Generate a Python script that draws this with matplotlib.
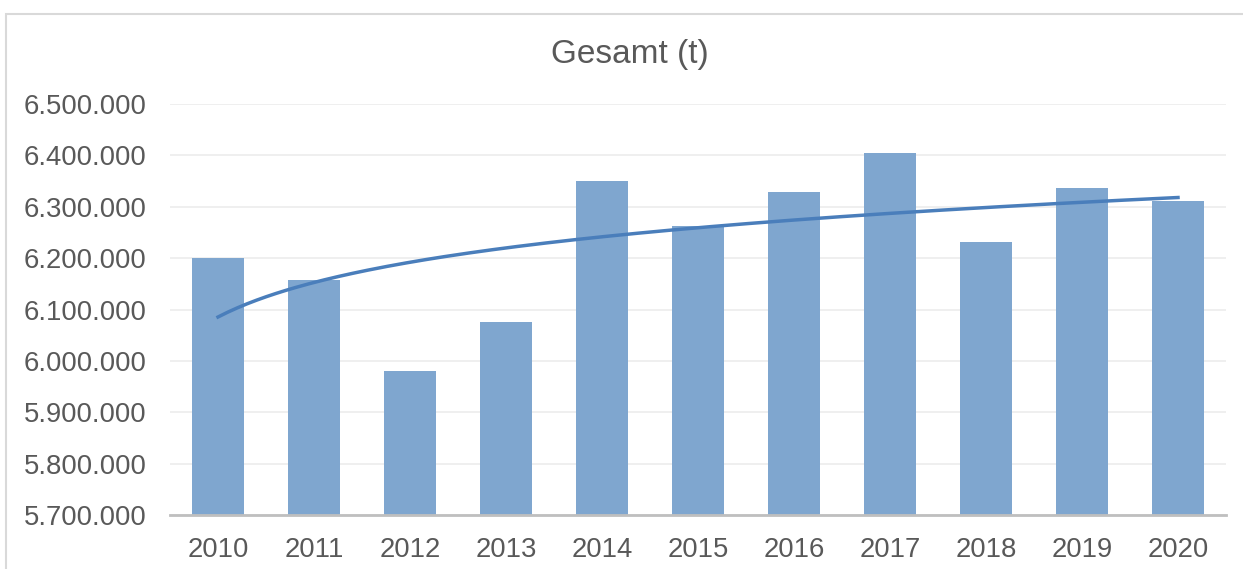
import numpy as np
import matplotlib
matplotlib.use('Agg')
from matplotlib import pyplot as plt
from matplotlib.ticker import FuncFormatter
from matplotlib.patches import Rectangle

# Daten (Tonnen)
jahre = ['2010', '2011', '2012', '2013', '2014', '2015', '2016', '2017', '2018', '2019', '2020']
gesamt = [6200000, 6157000, 5980000, 6076000, 6350000, 6262000, 6329000, 6405000, 6231000, 6336000, 6311000]
titel = 'Gesamt (t)'


def tausender(v, pos):
    return '{:,.0f}'.format(v).replace(',', '.')


def main():
    plt.rcParams['font.family'] = ['Liberation Sans', 'DejaVu Sans']
    grau = '#595959'

    fig = plt.figure(figsize=(12.43, 5.69), dpi=100)
    ax = fig.add_axes([170 / 1243, 1 - 515 / 569, (1226 - 170) / 1243, (515 - 104) / 569])

    # Rahmen um das ganze Diagramm
    fig.patches.append(Rectangle((6 / 1243, -0.1), 1.2, 1 - 14 / 569 + 0.1, transform=fig.transFigure,
                                 fill=False, edgecolor='#d9d9d9', linewidth=1.5))

    x = np.arange(len(jahre))
    ax.bar(x, gesamt, width=0.55, color='#7fa6cf', zorder=2)

    # logarithmische Trendlinie
    lx = np.log(x + 1)
    b, a = np.polyfit(lx, gesamt, 1)
    xx = np.linspace(0, len(jahre) - 1, 200)
    ax.plot(xx, a + b * np.log(xx + 1), color='#4a7ebb', linewidth=2.5, zorder=3)

    ax.set_ylim(5700000, 6500000)
    ax.set_xlim(-0.5, len(jahre) - 0.5)
    ax.set_yticks(np.arange(5700000, 6500001, 100000))
    ax.yaxis.set_major_formatter(FuncFormatter(tausender))
    ax.set_xticks(x)
    ax.set_xticklabels(jahre)

    ax.grid(axis='y', color='#ececec', linewidth=1.2, zorder=0)
    ax.set_axisbelow(True)
    for s in ['top', 'right', 'left']:
        ax.spines[s].set_visible(False)
    ax.spines['bottom'].set_color('#bfbfbf')
    ax.spines['bottom'].set_linewidth(2)
    ax.spines['bottom'].set_zorder(4)

    ax.tick_params(axis='y', length=0, pad=17, labelsize=19.8, labelcolor=grau)
    ax.tick_params(axis='x', length=0, pad=16, labelsize=19.8, labelcolor=grau)

    fig.text(630 / 1243, 1 - 55 / 569, titel, ha='center', va='center',
             fontsize=24, color=grau)

    fig.savefig('out.png', dpi=100)


if __name__ == '__main__':
    main()
